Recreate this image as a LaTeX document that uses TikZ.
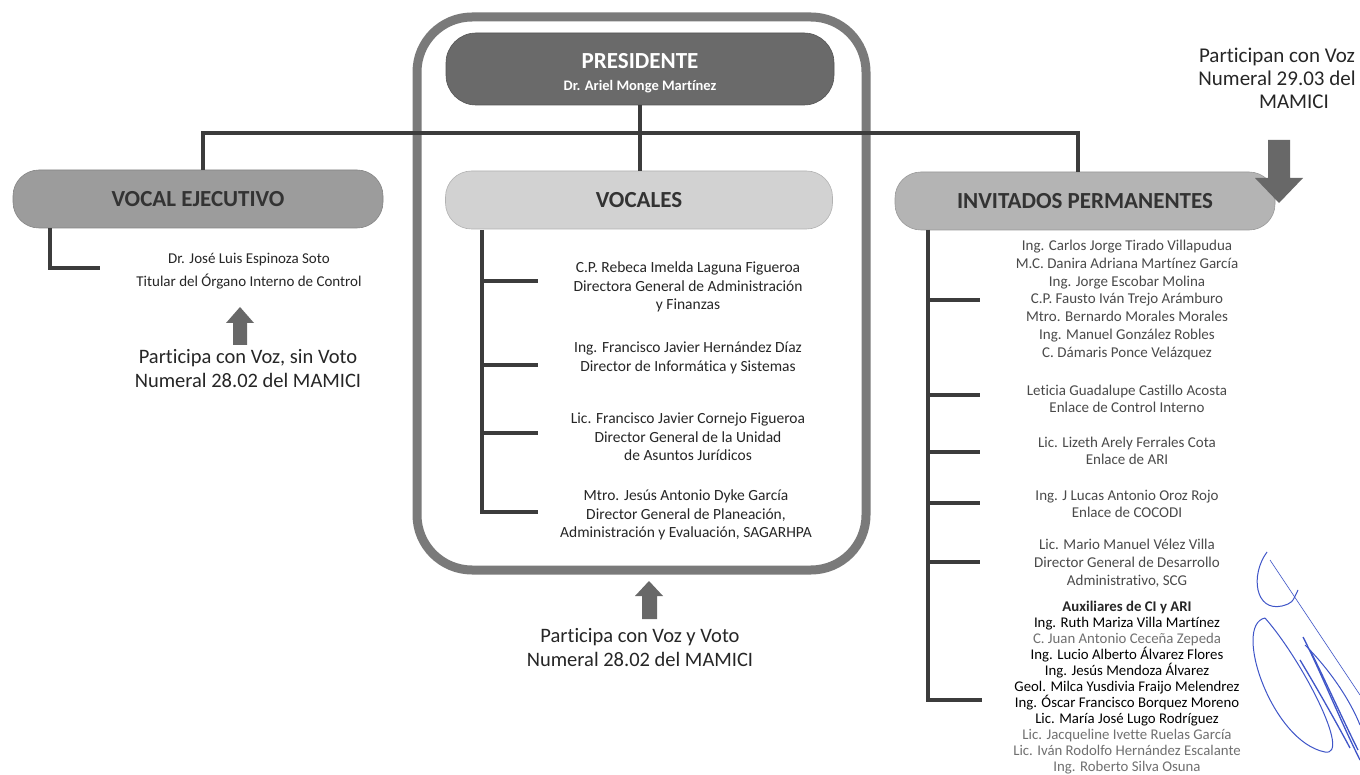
\documentclass[tikz,border=0pt]{standalone}
\usepackage{fontspec}
\setmainfont{Carlito}[Ligatures=NoCommon]
\usetikzlibrary{calc}
\newcommand{\myfs}[2]{\fontsize{#1}{#2}\selectfont}
\definecolor{framegray}{HTML}{7A7A7A}
\definecolor{linegray}{HTML}{3C3C3C}
\definecolor{presgray}{HTML}{6A6A6A}
\definecolor{vegray}{HTML}{9C9C9C}
\definecolor{vocgray}{HTML}{D2D2D2}
\definecolor{invgray}{HTML}{B4B4B4}
\definecolor{hdrtext}{HTML}{333333}
\definecolor{arrowgray}{HTML}{686868}
\definecolor{txtdark}{HTML}{262626}
\definecolor{txtmid}{HTML}{4A4A4A}
\definecolor{txtlight}{HTML}{707070}
\definecolor{sigblue}{HTML}{3F55C8}
\tikzset{
  hdrbox/.style={rounded corners=26pt, draw=#1!85!black, line width=0.6pt, fill=#1,
    minimum height=58pt, inner sep=0pt, text=hdrtext, font=\myfs{23}{26}\bfseries},
  conn/.style={draw=linegray, line width=4pt},
  body/.style={align=center, inner sep=0pt, text=txtdark},
  note/.style={align=center, inner sep=0pt, text=txtdark, font=\myfs{20.5}{24}},
  blockarrow/.style={fill=arrowgray, draw=none},
  sig/.style={draw=sigblue, line width=1pt}
}
\begin{document}
\begin{tikzpicture}[x=1pt,y=-1pt]
\useasboundingbox (0,0) rectangle (1360,775);
\fill[white] (0,0) rectangle (1360,775);

% outer frame of the council
\draw[draw=framegray, line width=9pt, rounded corners=55pt] (417,17) rectangle (866,570);

% presidente
\node[rounded corners=30pt, fill=presgray, draw=presgray!80!black, line width=0.6pt,
      minimum width=388pt, minimum height=72pt, inner sep=0pt] (pres) at (640,69) {};
\node[text=white, font=\myfs{23}{26}\bfseries, inner sep=0pt] (prest) at (640,61) {PRESIDENTE};
\node[text=white, font=\myfs{14.5}{17}\bfseries, inner sep=0pt] (presn) at (640,87) {Dr. Ariel Monge Martínez};

% header boxes
\node[hdrbox=vegray, minimum width=370pt] (ve) at (198,199) {VOCAL EJECUTIVO};
\node[hdrbox=vocgray, minimum width=387pt] (voc) at (639,200) {VOCALES};
\node[hdrbox=invgray, minimum width=380pt] (inv) at (1085,201) {INVITADOS PERMANENTES};

% top connectors
\coordinate (bar) at (640,133);
\draw[conn] ([xshift=5pt]ve.north) |- (bar) -| ([xshift=-7pt]inv.north);
\draw[conn] (pres.south) -- (pres.south |- voc.north);

% vocal ejecutivo
\node[body, font=\myfs{15}{23}] (vet) at (249,271) {Dr. José Luis Espinoza Soto\\Titular del Órgano Interno de Control};
\coordinate (vec) at (50,268);
\draw[conn] ([xshift=-148pt]ve.south) -- (vec) -- ++(50,0);
\fill[blockarrow] (240,307) -- (254,323) -- (247,323) -- (247,345) -- (233,345) -- (233,323) -- (226,323) -- cycle;
\node[note] (ven) at (248,369) {Participa con Voz, sin Voto\\Numeral 28.02 del MAMICI};

% vocales
\coordinate (vt0) at (482,230);
\coordinate (vt1) at (482,281);
\coordinate (vt2) at (482,365);
\coordinate (vt3) at (482,433);
\coordinate (vt4) at (482,512);
\draw[conn] (vt0) -- (vt4) -- ++(56,0);
\foreach \c in {vt1,vt2,vt3} \draw[conn] (\c) -- ++(56,0);
\node[body, font=\myfs{15.5}{18.5}] (v1) at (688,287) {C.P. Rebeca Imelda Laguna Figueroa\\Directora General de Administración\\y Finanzas};
\node[body, font=\myfs{15.5}{18.5}] (v2) at (688,358) {Ing. Francisco Javier Hernández Díaz\\Director de Informática y Sistemas};
\node[body, font=\myfs{15.5}{18.5}] (v3) at (688,437) {Lic. Francisco Javier Cornejo Figueroa\\Director General de la Unidad\\de Asuntos Jurídicos};
\node[body, font=\myfs{15.5}{18.5}] (v4) at (686,515) {Mtro. Jesús Antonio Dyke García\\Director General de Planeación,\\Administración y Evaluación, SAGARHPA};
\fill[blockarrow] (649,581) -- (663,596) -- (657,596) -- (657,619) -- (642,619) -- (642,596) -- (635,596) -- cycle;
\node[note] (vocn) at (640,648) {Participa con Voz y Voto\\Numeral 28.02 del MAMICI};

% invitados
\coordinate (it0) at (928,230);
\coordinate (it1) at (928,300);
\coordinate (it2) at (928,395);
\coordinate (it3) at (928,452);
\coordinate (it4) at (928,503);
\coordinate (it5) at (928,562);
\coordinate (it6) at (928,700);
\draw[conn] (it0) -- (it6) -- ++(54,0);
\foreach \c in {it1,it2,it3,it4,it5} \draw[conn] (\c) -- ++(52,0);
\node[body, text=txtmid, font=\myfs{15}{17.7}] (i1) at (1127,300) {Ing. Carlos Jorge Tirado Villapudua\\M.C. Danira Adriana Martínez García\\Ing. Jorge Escobar Molina\\C.P. Fausto Iván Trejo Arámburo\\Mtro. Bernardo Morales Morales\\Ing. Manuel González Robles\\C. Dámaris Ponce Velázquez};
\node[body, text=txtmid, font=\myfs{15}{17}] (i2) at (1127,399) {Leticia Guadalupe Castillo Acosta\\Enlace de Control Interno};
\node[body, text=txtmid, font=\myfs{15}{17}] (i3) at (1127,451) {Lic. Lizeth Arely Ferrales Cota\\Enlace de ARI};
\node[body, text=txtmid, font=\myfs{15}{17}] (i4) at (1127,504) {Ing. J Lucas Antonio Oroz Rojo\\Enlace de COCODI};
\node[body, text=txtmid, font=\myfs{15}{18}] (i5) at (1127,563) {Lic. Mario Manuel Vélez Villa\\Director General de Desarrollo\\Administrativo, SCG};
\node[body, font=\myfs{14.8}{16}] (i6) at (1127,688) {\textbf{Auxiliares de CI y ARI}\\
  {\color{black}Ing. Ruth Mariza Villa Martínez}\\
  {\color{txtlight}C. Juan Antonio Ceceña Zepeda}\\
  {\color{black}Ing. Lucio Alberto Álvarez Flores}\\
  {\color{black}Ing. Jesús Mendoza Álvarez}\\
  {\color{black}Geol. Milca Yusdivia Fraijo Melendrez}\\
  {\color{black}Ing. Óscar Francisco Borquez Moreno}\\
  {\color{black}Lic. María José Lugo Rodríguez}\\
  {\color{txtlight}Lic. Jacqueline Ivette Ruelas García}\\
  {\color{txtlight}Lic. Iván Rodolfo Hernández Escalante}\\
  {\color{txtlight}Ing. Roberto Silva Osuna}};

% top right note and arrow
\node[note, font=\myfs{21}{23}] (invn) at (1277,78) {Participan con Voz\\Numeral 29.03 del\\\hspace*{34pt}MAMICI};
\fill[blockarrow] (1268,140) -- (1290,140) -- (1290,178) -- (1303,178) -- (1279,203) -- (1255,178) -- (1268,178) -- cycle;

% signature
\draw[sig] (1267,552) .. controls (1250,575) and (1255,612) .. (1282,606) .. controls (1292,603) .. (1298,590);
\draw[sig, line width=0.6pt] (1270,560) -- (1360,695);
\draw[sig] (1265,618) .. controls (1232,625) and (1272,742) .. (1325,752) .. controls (1352,757) and (1302,660) .. (1265,618);
\draw[sig, line width=1.3pt] (1303,637) .. controls (1320,670) and (1340,720) .. (1360,760);
\draw[sig, line width=1.3pt] (1310,650) .. controls (1325,680) and (1343,720) .. (1358,750);
\draw[sig, line width=1.3pt] (1300,660) .. controls (1318,690) and (1335,720) .. (1350,748);
\draw[sig] (1305,645) .. controls (1330,670) and (1350,700) .. (1360,725);
\end{tikzpicture}
\end{document}
